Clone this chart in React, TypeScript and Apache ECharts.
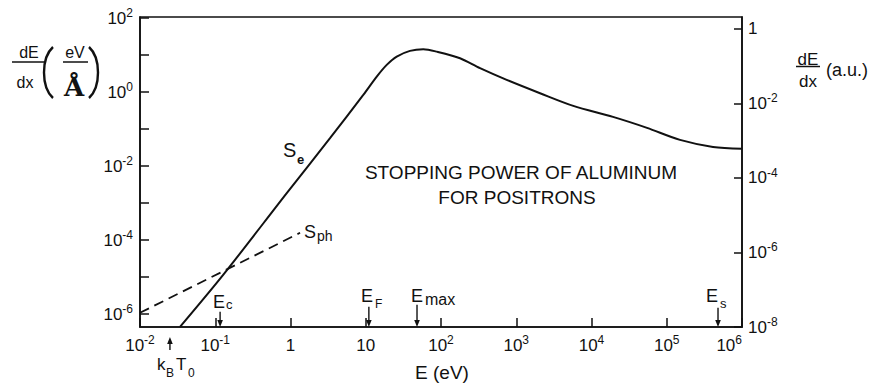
import React, { useEffect, useRef } from "react";
import * as echarts from "echarts";

// ---- data (E in eV, dE/dx in eV/Å) ----
const seEnergy = [0.034, 0.1306, 0.897, 3.35, 9.27, 14.0, 19.0, 25.8, 38.7, 58.2, 87.7, 179, 330, 746, 2070, 5730, 19300, 54700, 150000, 412000, 1000000];
const seStopping = [4.5e-7, 1.22e-5, 1.89e-3, 0.0568, 0.839, 2.62, 5.43, 9.1, 13.0, 14.4, 12.4, 8.24, 4.43, 2.14, 0.933, 0.424, 0.214, 0.108, 0.0511, 0.033, 0.0292];
const sphEnergy = [0.01, 1.34];
const sphStopping = [1.08e-6, 1.57e-4];

// marker arrows: kBT0, Ec, EF, Emax, Es
const markerEnergy = [0.025, 0.116, 11, 48, 480000];
const markerTail = [1.07e-7, 1.15e-6, 1.57e-6, 1.78e-6, 1.48e-6];
const markerHead = [2.4e-7, 4.5e-7, 4.5e-7, 4.5e-7, 4.5e-7];

const leftTickExponents = [-6, -5, -4, -3, -2, -1, 0, 1, 2];
const leftLabelExponents = [-6, -4, -2, 0, 2];
const rightExponents = [-8, -6, -4, -2, 0];

const FF = '"Liberation Sans", Arial, sans-serif';
const INK = "#111";
const lg = Math.log10;

const rich = {
  b: { fontSize: 17, fontFamily: FF, color: INK, lineHeight: 22 },
  s: { fontSize: 12, fontFamily: FF, color: INK, lineHeight: 12, verticalAlign: "top" as const },
};

const txt = (x: number, y: number, text: string, size: number, align: string = "left", extra: any = {}) => ({
  type: "text",
  x,
  y,
  silent: true,
  style: {
    text,
    fontSize: size,
    fontFamily: FF,
    fill: INK,
    textAlign: align,
    textVerticalAlign: "middle",
    ...extra,
  },
});

const ln = (x1: number, y1: number, x2: number, y2: number, w = 1.5) => ({
  type: "line",
  silent: true,
  shape: { x1, y1, x2, y2 },
  style: { stroke: INK, lineWidth: w },
});

const paren = (x: number, dir: number) => ({
  type: "bezierCurve",
  silent: true,
  shape: { x1: x, y1: 47, x2: x, y2: 98, cpx1: x - dir * 12, cpy1: 58, cpx2: x - dir * 12, cpy2: 87 },
  style: { stroke: INK, lineWidth: 2.4, fill: "none" },
});

const axisLine = { show: true, onZero: false, lineStyle: { color: INK, width: 1.6 } };

export default function App() {
  const ref = useRef<HTMLDivElement>(null);
  useEffect(() => {
    if (!ref.current) return;
    const chart = echarts.init(ref.current, undefined, { renderer: "svg" });
    const option: any = {
      animation: false,
      backgroundColor: "#fff",
      grid: { left: 140, right: 135, top: 17, bottom: 56, show: true, borderColor: INK, borderWidth: 1.6 },
      xAxis: {
        type: "value",
        min: -2,
        max: 6,
        interval: 1,
        axisLine,
        axisTick: { show: true, inside: true, length: 9, lineStyle: { color: INK, width: 1.5 } },
        splitLine: { show: false },
        axisLabel: {
          margin: 7,
          alignMaxLabel: "right",
          formatter: (v: number) => {
            const r = Math.round(v);
            if (r === 0) return "{b|1}";
            if (r === 1) return "{b|10}";
            return `{b|10}{s|${r}}`;
          },
          rich,
        },
      },
      yAxis: [
        {
          type: "value",
          min: -6.35,
          max: 2.03,
          axisLine,
          axisTick: { show: true, inside: true, length: 9, customValues: leftTickExponents, lineStyle: { color: INK, width: 1.5 } },
          splitLine: { show: false },
          axisLabel: {
            margin: 7,
            customValues: leftLabelExponents,
            formatter: (v: number) => `{b|10}{s|${Math.round(v)}}`,
            rich,
          },
        },
        {
          type: "value",
          position: "right",
          min: -8,
          max: 0.32,
          axisLine,
          axisTick: { show: true, inside: true, length: 8, customValues: rightExponents, lineStyle: { color: INK, width: 1.5 } },
          splitLine: { show: false },
          axisLabel: {
            margin: 6,
            customValues: rightExponents,
            formatter: (v: number) => {
              const r = Math.round(v);
              return r === 0 ? "{b|1}" : `{b|10}{s|${r}}`;
            },
            rich,
          },
        },
      ],
      series: [
        {
          name: "Se",
          type: "line",
          yAxisIndex: 0,
          showSymbol: false,
          smooth: 0.3,
          data: seEnergy.map((e, i) => [lg(e), lg(seStopping[i])]),
          lineStyle: { color: INK, width: 2 },
        },
        {
          name: "Sph",
          type: "line",
          yAxisIndex: 0,
          showSymbol: false,
          data: sphEnergy.map((e, i) => [lg(e), lg(sphStopping[i])]),
          lineStyle: { color: INK, width: 1.8, type: [10, 6] },
        },
        {
          name: "markers",
          type: "custom",
          yAxisIndex: 0,
          clip: false,
          data: markerEnergy.map((e, i) => [lg(e), lg(markerTail[i]), lg(markerHead[i])]),
          renderItem: (params: any, api: any) => {
            const t = api.coord([api.value(0), api.value(1)]);
            const h = api.coord([api.value(0), api.value(2)]);
            const dir = h[1] > t[1] ? 1 : -1;
            return {
              type: "group",
              children: [
                { type: "line", shape: { x1: t[0], y1: t[1], x2: h[0], y2: h[1] - dir * 4 }, style: { stroke: INK, lineWidth: 1.4 } },
                {
                  type: "polygon",
                  shape: { points: [[h[0], h[1]], [h[0] - 2.8, h[1] - dir * 7], [h[0] + 2.8, h[1] - dir * 7]] },
                  style: { fill: INK },
                },
              ],
            };
          },
        },
      ],
      graphic: [
        // left axis title
        txt(29, 52.5, "dE", 16, "center"),
        ln(12, 62, 44, 62),
        txt(25, 82.5, "dx", 16, "center"),
        paren(53, 1),
        paren(89, -1),
        txt(75, 52.5, "eV", 16, "center"),
        ln(63, 62, 88, 62),
        txt(74, 87, "Å", 26, "center", { fontFamily: '"DejaVu Serif", serif', fontWeight: "bold" }),
        // right axis title
        txt(808, 59, "dE", 17, "center"),
        ln(796, 66.5, 820, 66.5),
        txt(808, 81, "dx", 17, "center"),
        txt(826, 69.8, "(a.u.)", 18, "left"),
        // x axis title
        txt(442, 372, "E (eV)", 19, "center"),
        // curve labels
        txt(283, 150, "S", 20),
        txt(297, 159.5, "e", 13, "left", { fontWeight: "bold" }),
        txt(304, 231.8, "S", 18),
        txt(317, 236, "ph", 14),
        // title
        txt(521, 172.8, "STOPPING POWER OF ALUMINUM", 19, "center"),
        txt(517, 197.8, "FOR POSITRONS", 19, "center"),
        // marker labels
        txt(213, 301.8, "E", 18),
        txt(226, 304, "c", 13),
        txt(361, 295.8, "E", 18),
        txt(375, 303.8, "F", 12),
        txt(411, 295.8, "E", 18),
        txt(425, 299.5, "max", 16),
        txt(706, 295.8, "E", 18),
        txt(720, 303.5, "s", 13),
        txt(157, 364, "k", 17),
        txt(166, 372.8, "B", 12),
        txt(176, 364, "T", 17),
        txt(188, 372.8, "0", 12),
      ],
    };
    chart.setOption(option);
    return () => chart.dispose();
  }, []);
  return <div ref={ref} style={{ position: "absolute", left: 0, top: 0, width: 877, height: 383, background: "#fff" }} />;
}
